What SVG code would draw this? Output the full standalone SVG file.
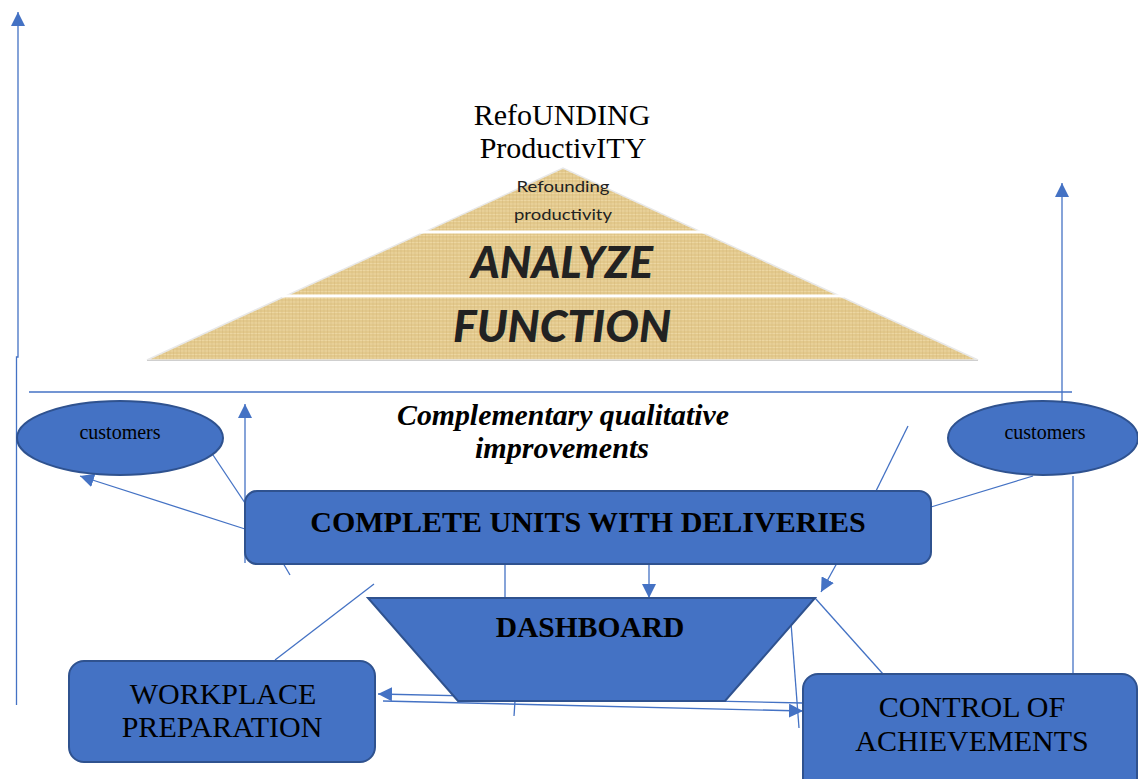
<svg xmlns="http://www.w3.org/2000/svg" width="1138" height="779" viewBox="0 0 1138 779">
<style>
.node{fill:#4472C4;stroke:#2F528F;stroke-width:2}
.ln{fill:none;stroke:#4472C4;stroke-width:1.3}
.arr{marker-end:url(#ah)}
.serif{font-family:"Liberation Serif","Times New Roman",serif;fill:#000}
.b{font-weight:bold}
.cal{font-family:Lato,"Open Sans",sans-serif;fill:#222}
</style>
<defs>
<marker id="ah" viewBox="0 0 10 10" refX="10" refY="5" markerWidth="14" markerHeight="14" markerUnits="userSpaceOnUse" orient="auto">
<path d="M0 0L10 5L0 10Z" fill="#4472C4"/>
</marker>
<pattern id="papyrus" width="7" height="7" patternUnits="userSpaceOnUse">
<rect width="7" height="7" fill="#e3c98c"/>
<path d="M0 1H7M0 4.5H7" stroke="#efdcaa" stroke-width="1" opacity="0.7"/>
<path d="M2 0V7M5.5 0V7" stroke="#cfb273" stroke-width="0.8" opacity="0.45"/>
</pattern>
</defs>

<rect width="1138" height="779" fill="#fff"/>

<g id="pyramid">
<polygon points="147,360 563,168 978,360" fill="url(#papyrus)" stroke="#e8e8e8" stroke-width="1.5"/>
<line x1="420" y1="232" x2="706" y2="232" stroke="#fff" stroke-width="3"/>
<line x1="282" y1="296" x2="844" y2="296" stroke="#fff" stroke-width="3"/>
<line x1="147" y1="360.5" x2="978" y2="360.5" stroke="#cfcfcf" stroke-width="1"/>
<text class="cal" x="563" y="192" text-anchor="middle" font-size="16" textLength="93" lengthAdjust="spacingAndGlyphs">Refounding</text>
<text class="cal" x="563" y="220" text-anchor="middle" font-size="16" textLength="98" lengthAdjust="spacingAndGlyphs">productivity</text>
<text class="cal" x="562" y="278" text-anchor="middle" font-size="43" font-weight="900" font-style="italic" fill="#000" textLength="182" lengthAdjust="spacingAndGlyphs">ANALYZE</text>
<text class="cal" x="562" y="342" text-anchor="middle" font-size="43" font-weight="900" font-style="italic" fill="#000" textLength="218" lengthAdjust="spacingAndGlyphs">FUNCTION</text>
</g>

<g id="title">
<text class="serif" x="562" y="125" text-anchor="middle" font-size="30">RefoUNDING</text>
<text class="serif" x="563" y="158" text-anchor="middle" font-size="30">ProductivITY</text>
</g>

<g id="subtitle">
<text class="serif b" x="563" y="425" text-anchor="middle" font-size="29.5" font-style="italic" textLength="332" lengthAdjust="spacingAndGlyphs">Complementary qualitative</text>
<text class="serif b" x="562" y="458" text-anchor="middle" font-size="29.5" font-style="italic" textLength="174" lengthAdjust="spacingAndGlyphs">improvements</text>
</g>

<g id="connectors">
<polyline class="ln" points="16.5,705 16.5,357 18,357 18,12" marker-end="url(#ah)"/>
<line class="ln" x1="29" y1="392" x2="1072" y2="392"/>
<line class="ln arr" x1="1062" y1="401" x2="1062" y2="183"/>
<line class="ln" x1="1073" y1="476" x2="1073" y2="674"/>
<line class="ln arr" x1="245" y1="563" x2="245" y2="404"/>
<line class="ln arr" x1="245" y1="529" x2="80" y2="476"/>
<line class="ln" x1="213" y1="455" x2="245" y2="503"/>
<line class="ln" x1="283" y1="563" x2="290" y2="575"/>
<line class="ln" x1="908" y1="426" x2="876" y2="491"/>
<line class="ln" x1="931" y1="507" x2="1033" y2="476"/>
<line class="ln" x1="505" y1="564" x2="505" y2="598"/>
<line class="ln arr" x1="649" y1="564" x2="649" y2="598"/>
<line class="ln arr" x1="837" y1="563" x2="821" y2="592"/>
<line class="ln" x1="374" y1="584" x2="275" y2="660"/>
<line class="ln" x1="815" y1="598" x2="883" y2="674"/>
<line class="ln" x1="791" y1="623" x2="799" y2="728"/>
<line class="ln" x1="515" y1="701" x2="514" y2="716"/>
<line class="ln arr" x1="803" y1="703" x2="378" y2="694"/>
<line class="ln arr" x1="383" y1="701" x2="803" y2="711"/>
</g>

<g id="customers-left">
<ellipse class="node" cx="120" cy="438" rx="103" ry="37"/>
<text class="serif" x="120" y="439" text-anchor="middle" font-size="20">customers</text>
</g>

<g id="customers-right">
<ellipse class="node" cx="1043" cy="438" rx="95" ry="37"/>
<text class="serif" x="1045" y="439" text-anchor="middle" font-size="20">customers</text>
</g>

<g id="complete-units">
<rect class="node" x="245" y="491" width="686" height="73" rx="12"/>
<text class="serif b" x="588" y="532" text-anchor="middle" font-size="30">COMPLETE UNITS WITH DELIVERIES</text>
</g>

<g id="dashboard">
<polygon class="node" points="368,598 815,598 725,701 458,701"/>
<text class="serif b" x="590" y="637" text-anchor="middle" font-size="29.5">DASHBOARD</text>
</g>

<g id="workplace">
<rect class="node" x="69" y="661" width="306" height="101" rx="15"/>
<text class="serif" x="223" y="704" text-anchor="middle" font-size="30">WORKPLACE</text>
<text class="serif" x="222" y="737" text-anchor="middle" font-size="30">PREPARATION</text>
</g>

<g id="control">
<rect class="node" x="803" y="674" width="334" height="125" rx="15"/>
<text class="serif" x="972" y="717" text-anchor="middle" font-size="30">CONTROL OF</text>
<text class="serif" x="972" y="751" text-anchor="middle" font-size="30">ACHIEVEMENTS</text>
</g>
</svg>
